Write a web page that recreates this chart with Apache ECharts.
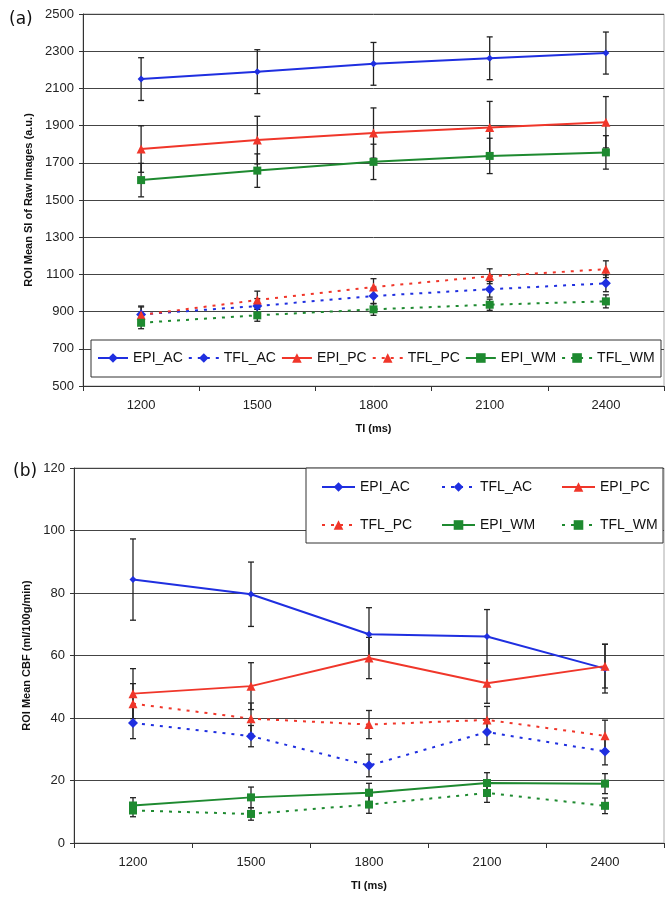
<!DOCTYPE html>
<html>
<head>
<meta charset="utf-8">
<script src="https://cdn.jsdelivr.net/npm/echarts@6/dist/echarts.min.js"></script>
<style>
html,body{margin:0;padding:0;background:#fff;}
#c{width:672px;height:899px;}
</style>
</head>
<body>
<div id="c"></div>
<script>
// ---------- data ----------
const categories = ['1200', '1500', '1800', '2100', '2400'];
const seriesNames = ['EPI_AC', 'TFL_AC', 'EPI_PC', 'TFL_PC', 'EPI_WM', 'TFL_WM'];

// panel (a): ROI mean SI of raw images
const epiAC_a = [2150, 2190, 2232, 2262, 2290];
const tflAC_a = [885, 930, 984, 1020, 1052];
const epiPC_a = [1774, 1822, 1860, 1890, 1918];
const tflPC_a = [882, 962, 1032, 1090, 1128];
const epiWM_a = [1607, 1658, 1705, 1737, 1756];
const tflWM_a = [840, 880, 912, 937, 955];
const epiAC_a_err = [115, 118, 115, 115, 113];
const tflAC_a_err = [40, 40, 42, 42, 45];
const epiPC_a_err = [125, 128, 135, 140, 138];
const tflPC_a_err = [48, 48, 45, 40, 45];
const epiWM_a_err = [90, 90, 95, 95, 90];
const tflWM_a_err = [32, 32, 32, 30, 35];

// panel (b): ROI mean CBF
const epiAC_b = [84.3, 79.6, 66.8, 66.1, 55.8];
const tflAC_b = [38.4, 34.2, 24.8, 35.5, 29.3];
const epiPC_b = [47.8, 50.2, 59.2, 51.1, 56.6];
const tflPC_b = [44.6, 39.8, 37.9, 39.4, 34.3];
const epiWM_b = [12.0, 14.6, 16.1, 19.2, 19.0];
const tflWM_b = [10.4, 9.3, 12.3, 16.0, 11.9];
const epiAC_b_err = [13, 10.3, 8.5, 8.6, 7.8];
const tflAC_b_err = [5, 3.4, 3.6, 4, 4.3];
const epiPC_b_err = [8, 7.5, 6.6, 6.4, 7];
const tflPC_b_err = [6.4, 5, 4.5, 4.3, 5];
const epiWM_b_err = [2.5, 3.3, 3, 3.3, 3.2];
const tflWM_b_err = [2, 2, 2.8, 3, 2.5];

const yTicksA = {min: 500, max: 2500, interval: 200};
const yTicksB = {min: 0, max: 120, interval: 20};

// ---------- styles ----------
const BLUE = '#1f2fe0', RED = '#f0362a', GREEN = '#1e8a30';
const styleOf = {
  EPI_AC: {color: BLUE, dash: 'solid', symbol: 'diamond', size: 7},
  TFL_AC: {color: BLUE, dash: [3, 6], symbol: 'diamond', size: 10},
  EPI_PC: {color: RED, dash: 'solid', symbol: 'triangle', size: 9},
  TFL_PC: {color: RED, dash: [3, 6], symbol: 'triangle', size: 9},
  EPI_WM: {color: GREEN, dash: 'solid', symbol: 'rect', size: 8},
  TFL_WM: {color: GREEN, dash: [3, 6], symbol: 'rect', size: 8}
};
const FONT = "'Liberation Sans', Arial, sans-serif";

function lineSeries(name, data, gi) {
  const s = styleOf[name];
  return {
    name: name, type: 'line', data: data,
    xAxisIndex: gi, yAxisIndex: gi,
    symbol: s.symbol, symbolSize: s.size, showSymbol: true,
    itemStyle: {color: s.color},
    lineStyle: {color: s.color, width: 2, type: s.dash},
    z: 3, animation: false
  };
}
function errSeries(vals, errs, gi) {
  return {
    type: 'custom', xAxisIndex: gi, yAxisIndex: gi, z: 2, silent: true,
    animation: false,
    data: vals.map((v, i) => [i, v, errs[i]]),
    encode: {x: 0, y: 1},
    renderItem: function (params, api) {
      const i = api.value(0), v = api.value(1), e = api.value(2);
      const hi = api.coord([i, v + e]);
      const lo = api.coord([i, v - e]);
      const w = 3;
      const st = {stroke: '#222', lineWidth: 1.3};
      return {
        type: 'group',
        children: [
          {type: 'line', shape: {x1: hi[0], y1: hi[1], x2: lo[0], y2: lo[1]}, style: st},
          {type: 'line', shape: {x1: hi[0] - w, y1: hi[1], x2: hi[0] + w, y2: hi[1]}, style: st},
          {type: 'line', shape: {x1: lo[0] - w, y1: lo[1], x2: lo[0] + w, y2: lo[1]}, style: st}
        ]
      };
    }
  };
}

const dataA = {EPI_AC: [epiAC_a, epiAC_a_err], TFL_AC: [tflAC_a, tflAC_a_err], EPI_PC: [epiPC_a, epiPC_a_err],
  TFL_PC: [tflPC_a, tflPC_a_err], EPI_WM: [epiWM_a, epiWM_a_err], TFL_WM: [tflWM_a, tflWM_a_err]};
const dataB = {EPI_AC: [epiAC_b, epiAC_b_err], TFL_AC: [tflAC_b, tflAC_b_err], EPI_PC: [epiPC_b, epiPC_b_err],
  TFL_PC: [tflPC_b, tflPC_b_err], EPI_WM: [epiWM_b, epiWM_b_err], TFL_WM: [tflWM_b, tflWM_b_err]};

const series = [];
seriesNames.forEach(n => series.push(errSeries(dataA[n][0], dataA[n][1], 0)));
seriesNames.forEach(n => series.push(errSeries(dataB[n][0], dataB[n][1], 1)));
seriesNames.forEach(n => series.push(lineSeries(n, dataA[n][0], 0)));
seriesNames.forEach(n => series.push(lineSeries(n, dataB[n][0], 1)));

function xAxis(gi) {
  return {
    type: 'category', gridIndex: gi, data: categories, boundaryGap: true,
    name: 'TI (ms)', nameLocation: 'middle', nameGap: 37,
    nameTextStyle: {fontFamily: FONT, fontWeight: 'bold', fontSize: 11, color: '#111'},
    axisLine: {lineStyle: {color: '#333', width: 1}},
    axisTick: {show: true, length: 5, lineStyle: {color: '#333'}},
    axisLabel: {fontFamily: FONT, fontSize: 13, color: '#222', margin: 13},
    splitLine: {show: false}
  };
}
function yAxis(gi, ticks, name, gap) {
  return {
    type: 'value', gridIndex: gi, min: ticks.min, max: ticks.max, interval: ticks.interval,
    name: name, nameLocation: 'middle', nameGap: gap,
    nameTextStyle: {fontFamily: FONT, fontWeight: 'bold', fontSize: 11, color: '#111'},
    axisLine: {show: true, lineStyle: {color: '#333', width: 1}},
    axisTick: {show: true, length: 4, lineStyle: {color: '#333'}},
    axisLabel: {fontFamily: FONT, fontSize: 13, color: '#222', margin: 9, formatter: v => String(v)},
    splitLine: {show: true, lineStyle: {color: '#444', width: 1}}
  };
}

const chart = echarts.init(document.getElementById('c'), null, {renderer: 'canvas'});
chart.setOption({
  backgroundColor: '#fff',
  animation: false,
  title: [
    {text: '(a)', left: 4, top: 6, textStyle: {fontFamily: 'DejaVu Sans', fontSize: 17, fontWeight: 'normal', color: '#111'}},
    {text: '(b)', left: 8, top: 458, textStyle: {fontFamily: 'DejaVu Sans', fontSize: 17, fontWeight: 'normal', color: '#111'}}
  ],
  grid: [
    {left: 83, right: 8, top: 14, height: 372, show: true, borderColor: '#aaa', borderWidth: 1, containLabel: false},
    {left: 74, right: 8, top: 468, height: 375, show: true, borderColor: '#aaa', borderWidth: 1, containLabel: false}
  ],
  xAxis: [xAxis(0), xAxis(1)],
  yAxis: [yAxis(0, yTicksA, 'ROI Mean SI of Raw Images (a.u.)', 49), yAxis(1, yTicksB, 'ROI Mean CBF (ml/100g/min)', 40)],
  graphic: [
    {type: 'rect', shape: {x: 91, y: 340, width: 570, height: 37}, style: {fill: '#fff', stroke: '#333', lineWidth: 1}, z: 5},
    {type: 'rect', shape: {x: 306, y: 468, width: 357, height: 75}, style: {fill: '#fff', stroke: '#333', lineWidth: 1}, z: 5}
  ],
  legend: [
    {
      data: seriesNames, left: 97, top: 351, width: 600, padding: 0, itemGap: 5,
      itemWidth: 30, itemHeight: 12, z: 10,
      textStyle: {fontFamily: FONT, fontSize: 14, color: '#111'},
      selectedMode: false
    },
    {
      data: seriesNames, left: 321, top: 479, width: 360, padding: 0, itemGap: 22,
      itemWidth: 33, itemHeight: 12, z: 10,
      textStyle: {fontFamily: FONT, fontSize: 14, color: '#111', width: 59, lineHeight: 16},
      selectedMode: false
    }
  ],
  series: series
});
</script>
</body>
</html>
